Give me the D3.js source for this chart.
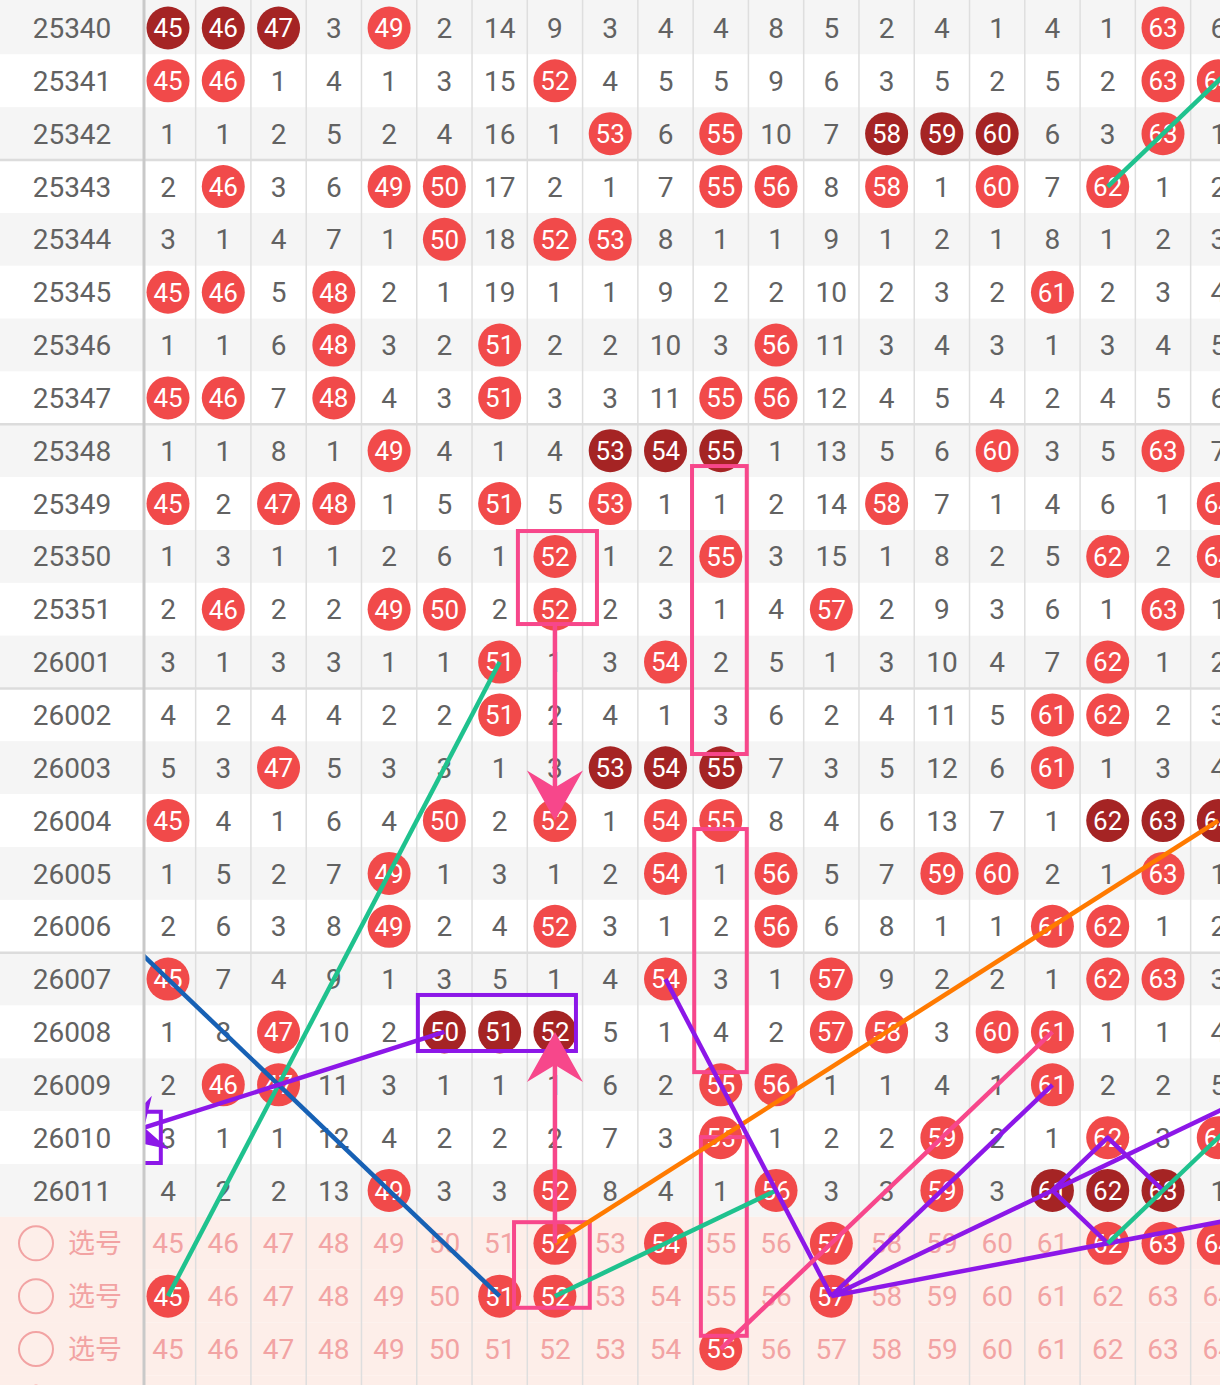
<!DOCTYPE html>
<html><head><meta charset="utf-8">
<script src="https://cdn.jsdelivr.net/npm/d3@7"></script>
<style>body{margin:0;background:#fff;} svg{display:block;font-family:Roboto,"Noto Sans",sans-serif;}</style>
</head><body><svg id="c" width="1220" height="1385"></svg>
<script>
// ---------------- data ----------------
const numbers = d3.range(45, 65); // columns 45..64
const periods = ["25340","25341","25342","25343","25344","25345","25346","25347","25348","25349","25350","25351",
  "26001","26002","26003","26004","26005","26006","26007","26008","26009","26010","26011"];
// value == column number -> drawn number (hit); otherwise omission count
const grid = [
  [45,46,47,3,49,2,14,9,3,4,4,8,5,2,4,1,4,1,63,6],
  [45,46,1,4,1,3,15,52,4,5,5,9,6,3,5,2,5,2,63,64],
  [1,1,2,5,2,4,16,1,53,6,55,10,7,58,59,60,6,3,63,1],
  [2,46,3,6,49,50,17,2,1,7,55,56,8,58,1,60,7,62,1,2],
  [3,1,4,7,1,50,18,52,53,8,1,1,9,1,2,1,8,1,2,3],
  [45,46,5,48,2,1,19,1,1,9,2,2,10,2,3,2,61,2,3,4],
  [1,1,6,48,3,2,51,2,2,10,3,56,11,3,4,3,1,3,4,5],
  [45,46,7,48,4,3,51,3,3,11,55,56,12,4,5,4,2,4,5,6],
  [1,1,8,1,49,4,1,4,53,54,55,1,13,5,6,60,3,5,63,7],
  [45,2,47,48,1,5,51,5,53,1,1,2,14,58,7,1,4,6,1,64],
  [1,3,1,1,2,6,1,52,1,2,55,3,15,1,8,2,5,62,2,64],
  [2,46,2,2,49,50,2,52,2,3,1,4,57,2,9,3,6,1,63,1],
  [3,1,3,3,1,1,51,1,3,54,2,5,1,3,10,4,7,62,1,2],
  [4,2,4,4,2,2,51,2,4,1,3,6,2,4,11,5,61,62,2,3],
  [5,3,47,5,3,3,1,3,53,54,55,7,3,5,12,6,61,1,3,4],
  [45,4,1,6,4,50,2,52,1,54,55,8,4,6,13,7,1,62,63,64],
  [1,5,2,7,49,1,3,1,2,54,1,56,5,7,59,60,2,1,63,1],
  [2,6,3,8,49,2,4,52,3,1,2,56,6,8,1,1,61,62,1,2],
  [45,7,4,9,1,3,5,1,4,54,3,1,57,9,2,2,1,62,63,3],
  [1,8,47,10,2,50,51,52,5,1,4,2,57,58,3,60,61,1,1,4],
  [2,46,47,11,3,1,1,1,6,2,55,56,1,1,4,1,61,2,2,5],
  [3,1,1,12,4,2,2,2,7,3,55,1,2,2,59,2,1,62,3,64],
  [4,2,2,13,49,3,3,52,8,4,1,56,3,3,59,3,61,62,63,1]
];
const selectLabel = "选号";
const selectRows = [[52,54,57,62,63,64],[45,51,52,57],[55]];
// annotation lines: points are [number, rowIndex]
const trendLines = [
  {c:"green", pts:[[62,3],[65,0]]},
  {c:"green", pts:[[45,24],[51,12]]},
  {c:"blue", pts:[[44,17],[51,24]]},
  {c:"orange", pts:[[52,23],[64,15]]},
  {c:"green", pts:[[52,24],[56,22]]},
  {c:"purple", pts:[[50,19],[44,21]], arrow:true},
  {c:"purple", pts:[[54,18],[57,24]]},
  {c:"pink", pts:[[61,19],[55,25]]},
  {c:"purple", pts:[[57,24],[61,20]]},
  {c:"purple", pts:[[57,24],[65,20]]},
  {c:"purple", pts:[[57,24],[67,22]]},
  {c:"purple", pts:[[61,22],[62,21],[63,22]]},
  {c:"purple", pts:[[61,22],[62,23]]},
  {c:"green", pts:[[62,23],[65,20]]},
  {c:"pink", pts:[[52,11.28],[52,15]], arrow:true},
  {c:"pink", pts:[[52,23],[52,19]], arrow:true}
];
const boxes = [
  {c:"pink", from:[51.33,9.52], to:[52.76,11.28]},
  {c:"pink", from:[54.48,8.29], to:[55.47,13.74]},
  {c:"pink", from:[54.52,15.16], to:[55.47,19.76]},
  {c:"pink", from:[54.64,20.99], to:[55.47,24.75]},
  {c:"pink", from:[51.26,22.6], to:[52.63,24.22]},
  {c:"purple", from:[49.52,18.3], to:[52.38,19.36]},
  {c:"purple", from:[43.2,20.51], to:[44.87,21.48]}
];
const palette = {green:"#1fc28e", blue:"#1761b5", purple:"#8c17e8", pink:"#f7478b", orange:"#ff7a00"};

// ---------------- drawing ----------------
const W = 1220, H = 1385;
const svg = d3.select("#c");
const x = d3.scaleLinear().domain([45,63]).range([168,1163]);
const y = d3.scaleLinear().domain([0,25]).range([28,1349]);
const step = y(1) - y(0);
const colW = x(46) - x(45);
const nData = periods.length;
const nRows = nData + selectRows.length + 1;
const bgFill = i => i >= nData ? "#fdeee9" : (i % 2 === 0 ? "#f5f5f5" : "#ffffff");
const LABEL_W = 144;
const TEXT = "#626262";

// row backgrounds
svg.append("g").selectAll("rect").data(d3.range(nRows)).join("rect")
  .attr("x", 0).attr("width", W)
  .attr("y", i => i === 0 ? 0 : y(i) - step/2)
  .attr("height", i => i === 0 ? y(0) + step/2 : step)
  .attr("fill", bgFill);

// vertical grid lines
svg.append("g").selectAll("line").data(numbers).join("line")
  .attr("x1", n => x(n) + colW/2).attr("x2", n => x(n) + colW/2)
  .attr("y1", 0).attr("y2", H)
  .attr("stroke", "#dedede").attr("stroke-width", 1.5);

// group separators every 5 rows
const seps = [2,7,12,17];
const sepG = svg.append("g");
function drawSeps(g, x1, x2){
  g.selectAll(null).data(seps).join("line")
    .attr("x1", x1).attr("x2", x2)
    .attr("y1", i => y(i) + step/2).attr("y2", i => y(i) + step/2)
    .attr("stroke", "#dcdcdc").attr("stroke-width", 2.5);
}
drawSeps(sepG, 0, W);

// cells
const cells = [];
grid.forEach((row, ri) => {
  const hit = row.map((v, ci) => v === numbers[ci]);
  row.forEach((v, ci) => {
    let dark = false;
    if (hit[ci]) {
      let a = ci, b = ci;
      while (a > 0 && hit[a-1]) a--;
      while (b < row.length-1 && hit[b+1]) b++;
      dark = (b - a + 1) >= 3;
    }
    cells.push({n: numbers[ci], r: ri, v, hit: hit[ci], dark, sel: false});
  });
});
selectRows.forEach((picks, k) => {
  numbers.forEach(n => cells.push({n, r: nData + k, v: n, hit: picks.includes(n), dark: false, sel: true}));
});

const cellG = svg.append("g");
cellG.selectAll("circle").data(cells.filter(d => d.hit)).join("circle")
  .attr("cx", d => x(d.n)).attr("cy", d => y(d.r)).attr("r", 21.5)
  .attr("fill", d => d.dark ? "#a52424" : "#f14a4a");
cellG.selectAll("text").data(cells).join("text")
  .attr("x", d => x(d.n)).attr("y", d => y(d.r)).attr("dy", "0.36em")
  .attr("text-anchor", "middle")
  .attr("font-size", d => d.hit ? 26 : 28)
  .attr("fill", d => d.hit ? "#ffffff" : (d.sel ? "#f2a3a3" : TEXT))
  .text(d => d.v);

// overlays (clipped to the number area)
svg.append("clipPath").attr("id", "area").append("rect")
  .attr("x", LABEL_W).attr("y", 0).attr("width", W - LABEL_W).attr("height", H);
const ov = svg.append("g").attr("clip-path", "url(#area)");

// boxes
ov.selectAll("rect").data(boxes).join("rect")
  .attr("x", d => x(d.from[0])).attr("y", d => y(d.from[1]))
  .attr("width", d => x(d.to[0]) - x(d.from[0]))
  .attr("height", d => y(d.to[1]) - y(d.from[1]))
  .attr("fill", "none").attr("stroke", d => palette[d.c]).attr("stroke-width", 4);

// lines + arrowheads
const AL = 50, AW = 28, AN = 33;
trendLines.forEach(t => {
  let pts = t.pts.map(p => [x(p[0]), y(p[1])]);
  let head = null;
  if (t.arrow) {
    const [x0, y0] = pts[pts.length-2], [x1, y1] = pts[pts.length-1];
    const len = Math.hypot(x1-x0, y1-y0), ux = (x1-x0)/len, uy = (y1-y0)/len;
    const px = -uy, py = ux;
    const bx = x1 - ux*AL, by = y1 - uy*AL;
    const nx = x1 - ux*AN, ny = y1 - uy*AN;
    head = [[x1, y1], [bx + px*AW, by + py*AW], [nx, ny], [bx - px*AW, by - py*AW]];
    pts = pts.slice(0, -1).concat([[nx + ux*2, ny + uy*2]]);
  }
  ov.append("path").attr("d", d3.line()(pts))
    .attr("fill", "none").attr("stroke", palette[t.c]).attr("stroke-width", 4.5)
    .attr("stroke-linejoin", "round");
  if (head) ov.append("path").attr("d", d3.line()(head) + "Z").attr("fill", palette[t.c]);
});

// label column on top
const lab = svg.append("g");
lab.selectAll("rect").data(d3.range(nRows)).join("rect")
  .attr("x", 0).attr("width", LABEL_W)
  .attr("y", i => i === 0 ? 0 : y(i) - step/2)
  .attr("height", i => i === 0 ? y(0) + step/2 : step)
  .attr("fill", bgFill);
drawSeps(lab.append("g"), 0, LABEL_W);
lab.selectAll("text.p").data(periods).join("text").attr("class", "p")
  .attr("x", 72).attr("y", (d, i) => y(i)).attr("dy", "0.36em")
  .attr("text-anchor", "middle").attr("font-size", 28).attr("fill", TEXT)
  .text(d => d);
const selIdx = d3.range(nData, nData + selectRows.length);
lab.selectAll("circle.s").data(selIdx).join("circle").attr("class", "s")
  .attr("cx", 36).attr("cy", i => y(i)).attr("r", 17)
  .attr("fill", "none").attr("stroke", "#f2a3a3").attr("stroke-width", 2);
lab.selectAll("text.s").data(selIdx).join("text").attr("class", "s")
  .attr("x", 68).attr("y", i => y(i)).attr("dy", "0.36em")
  .attr("font-family", "'Noto Sans CJK SC',sans-serif")
  .attr("font-size", 27).attr("fill", "#f2a3a3")
  .text(selectLabel);
lab.append("circle").attr("cx", 36).attr("cy", y(nRows - 1)).attr("r", 17).attr("fill", "#f14a4a");
lab.append("line").attr("x1", LABEL_W).attr("x2", LABEL_W).attr("y1", 0).attr("y2", H)
  .attr("stroke", "#c9c9c9").attr("stroke-width", 3);
</script></body></html>
